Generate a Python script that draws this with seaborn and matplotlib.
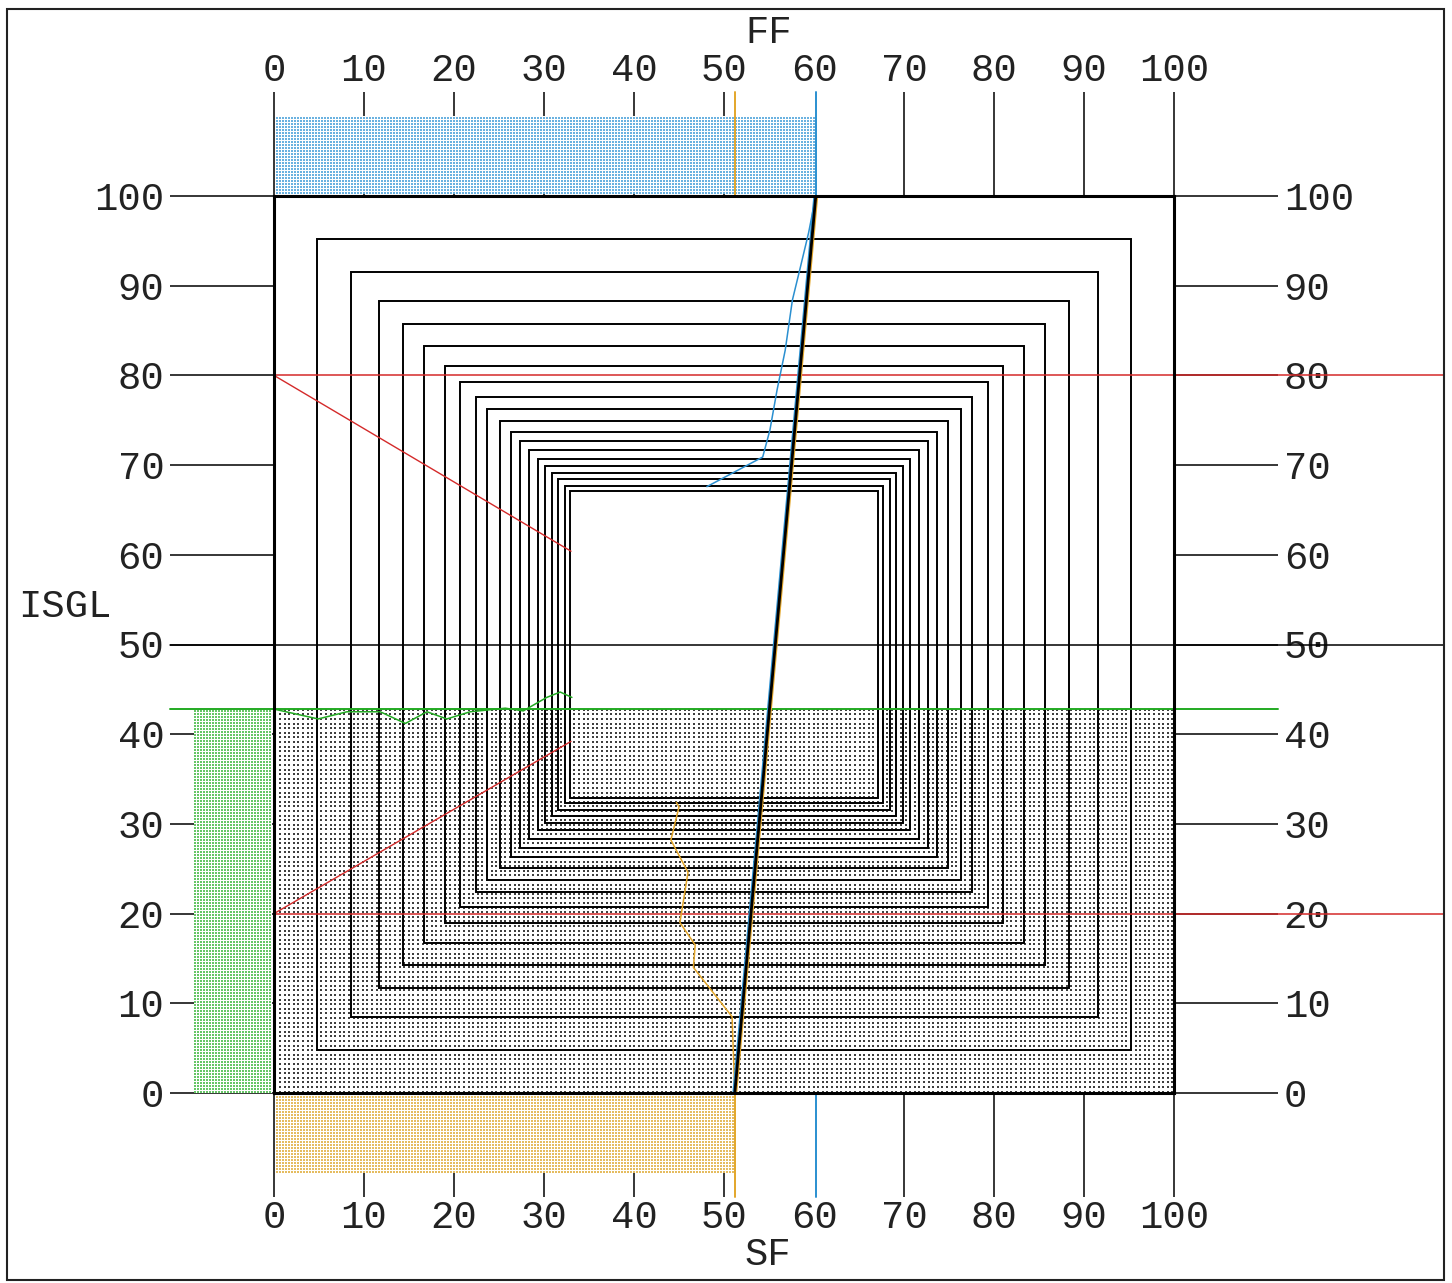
import numpy as np
import matplotlib
matplotlib.use("Agg")
import matplotlib.pyplot as plt
import matplotlib.transforms as mtransforms
from matplotlib.patches import Rectangle
import seaborn as sns

# ---------------- data ----------------
tick_values = list(range(0, 101, 10))
tick_labels = [str(v) for v in tick_values]

# inset of each nested square from the outer frame (outer -> inner)
box_insets = [4.8, 8.5, 11.7, 14.3, 16.7, 19.0, 20.7, 22.4, 23.7, 25.1,
              26.3, 27.3, 28.3, 29.3, 30.1, 30.9, 31.6, 32.3, 32.9]

ff_level = 60.2      # FF marker (top scale)
sf_level = 51.2      # SF marker (bottom scale)
isgl_level = 42.8    # ISGL level (left scale)
upper_line = 80
lower_line = 20
mid_line = 50

# FF trace (blue)
ff_x = [60.2, 59.4, 58.4, 57.6, 56.8, 55.9, 55.1, 54.3, 48.1]
ff_y = [100.0, 95.9, 91.7, 88.4, 82.8, 78.4, 73.9, 70.9, 67.6]

# SF trace (orange)
sf_x = [51.2, 50.9, 46.6, 46.8, 45.1, 46.0, 44.1, 45.0, 44.7]
sf_y = [0.0, 8.5, 14.0, 16.5, 19.0, 24.6, 28.2, 31.9, 32.4]

# ISGL trace (green)
isgl_x = [0.0, 4.9, 8.1, 11.8, 14.6, 17.0, 19.2, 21.8, 25.7, 27.7, 30.3, 31.8, 33.1]
isgl_y = [42.8, 41.7, 42.5, 42.5, 41.2, 42.5, 41.7, 42.5, 42.9, 42.6, 44.1, 44.7, 44.1]

# red guide diagonals
red_upper_x = [0.0, 33.0]
red_upper_y = [80.0, 60.4]
red_lower_x = [0.0, 33.0]
red_lower_y = [20.0, 39.2]

# ---------------- style ----------------
sns.set_theme(style="white")
plt.rcParams["font.family"] = ["Liberation Mono", "DejaVu Sans Mono"]

C_BLUE = "#2a8fd0"
C_ORANGE = "#e3a62a"
C_RED = "#d42a2a"
C_GREEN = "#22aa22"
C_TEXT = "#222222"
FS = 28
TICK_LEN = 75   # points

W_PX, H_PX, DPI = 1452, 1283, 100
AX_L, AX_B, AX_W, AX_H = 274, 190, 900, 897   # pixels

fig = plt.figure(figsize=(W_PX / DPI, H_PX / DPI), dpi=DPI)
fig.patch.set_facecolor("white")
ax = fig.add_axes([AX_L / W_PX, AX_B / H_PX, AX_W / W_PX, AX_H / H_PX])

px_x = AX_W / 100.0
px_y = AX_H / 100.0
reach_x = TICK_LEN * DPI / 72 / px_x
reach_y = TICK_LEN * DPI / 72 / px_y
band_x = 78 / px_x
band_y = 78 / px_y
gap_x = 2 / px_x
gap_y = 2 / px_y
x_far = (1444 - AX_L) / px_x


def dot_texture(x0, x1, y0, y1, rgb, period, dot):
    w = max(1, int(round(abs(x1 - x0) * px_x)))
    h = max(1, int(round(abs(y1 - y0) * px_y)))
    yy, xx = np.mgrid[0:h, 0:w]
    on = ((xx % period) < dot) & ((yy % period) < dot)
    img = np.ones((h, w, 3))
    img[on] = rgb
    return img


def paint(x0, x1, y0, y1, rgb, period, dot, z):
    img = dot_texture(x0, x1, y0, y1, rgb, period, dot)
    im = ax.imshow(img, extent=(x0, x1, y0, y1), origin="lower",
                   interpolation="nearest", aspect="auto", zorder=z)
    im.set_clip_on(False)


# stippled ISGL region inside the frame
paint(0, 100, 0, isgl_level, np.array([0.25, 0.25, 0.25]), 4.6, 2, 1)
# side bands
paint(gap_x, ff_level, 100 + gap_y, 100 + gap_y + band_y,
      np.array([0.42, 0.70, 0.88]), 3, 2, 1.2)
paint(gap_x, sf_level, -gap_y - band_y, -gap_y,
      np.array([0.90, 0.74, 0.38]), 3, 2, 1.2)
paint(-gap_x - band_x, -gap_x, 0, isgl_level,
      np.array([0.40, 0.78, 0.40]), 3, 2, 1.2)

# nested squares
for d in box_insets:
    ax.add_patch(Rectangle((d, d), 100 - 2 * d, 100 - 2 * d, fill=False,
                           lw=1.4, ec="black", zorder=3))

# horizontal guide lines
ax.plot([-reach_x, x_far], [mid_line, mid_line], color="black", lw=1.1,
        zorder=4, clip_on=False)
for lvl in (upper_line, lower_line):
    ax.plot([0, x_far], [lvl, lvl], color=C_RED, lw=1.1, zorder=4, clip_on=False)
ax.plot([-reach_x, 100 + reach_x], [isgl_level, isgl_level], color=C_GREEN,
        lw=1.4, zorder=4, clip_on=False)

# scale markers on top/bottom
for lvl, col in ((ff_level, C_BLUE), (sf_level, C_ORANGE)):
    ax.plot([lvl, lvl], [100, 100 + reach_y], color=col, lw=1.4, zorder=4,
            clip_on=False)
    ax.plot([lvl, lvl], [-reach_y, 0], color=col, lw=1.4, zorder=4,
            clip_on=False)

# red diagonals
ax.plot(red_upper_x, red_upper_y, color=C_RED, lw=1.0, zorder=4)
ax.plot(red_lower_x, red_lower_y, color=C_RED, lw=1.0, zorder=4)

# traces
sns.lineplot(x=ff_x, y=ff_y, sort=False, estimator=None, color=C_BLUE,
             lw=1.1, ax=ax, zorder=5)
sns.lineplot(x=sf_x, y=sf_y, sort=False, estimator=None, color=C_ORANGE,
             lw=1.1, ax=ax, zorder=5)
sns.lineplot(x=isgl_x, y=isgl_y, sort=False, estimator=None, color=C_GREEN,
             lw=1.1, ax=ax, zorder=5)

# SF -> FF diagonal with coloured edges
diag_x = [sf_level, ff_level]
diag_y = [0, 100]
left_tr = mtransforms.offset_copy(ax.transData, fig=fig, x=-1.5, y=0, units="dots")
right_tr = mtransforms.offset_copy(ax.transData, fig=fig, x=1.5, y=0, units="dots")
ax.plot(diag_x, diag_y, color=C_ORANGE, lw=1.4, transform=right_tr, zorder=6)
ax.plot(diag_x, diag_y, color=C_BLUE, lw=1.4, transform=left_tr, zorder=6)
ax.plot(diag_x, diag_y, color="black", lw=2.0, zorder=7)

# axes, ticks and frame
ax.set_xlim(0, 100)
ax.set_ylim(0, 100)
ax.set_axisbelow(True)
ax.grid(False)
ax.set_xticks(tick_values, tick_labels)
ax.set_yticks(tick_values, tick_labels)
ax.tick_params(axis="x", top=True, bottom=True, labeltop=True, labelbottom=True,
               length=TICK_LEN, width=1.1, direction="out", pad=2,
               labelsize=FS, color="black", labelcolor=C_TEXT)
ax.tick_params(axis="y", left=True, right=True, labelleft=True, labelright=True,
               length=TICK_LEN, width=1.1, direction="out", pad=4,
               labelsize=FS, color="black", labelcolor=C_TEXT)
for lbl in ax.get_xticklabels(which="both"):
    pass
for t in ax.xaxis.get_major_ticks():
    t.label1.set_y(t.label1.get_position()[1])
    if abs(t.get_loc() - 60) < 1e-9:
        t.tick1line.set_visible(False)
        t.tick2line.set_visible(False)
for sp in ax.spines.values():
    sp.set_linewidth(2.2)
    sp.set_color("black")
    sp.set_zorder(8)

# axis titles
fig.text(769 / W_PX, 1 - 33 / H_PX, "FF", ha="center", va="center",
         fontsize=FS, color=C_TEXT)
fig.text(768 / W_PX, 1 - 1255 / H_PX, "SF", ha="center", va="center",
         fontsize=FS, color=C_TEXT)
fig.text(65 / W_PX, 1 - 607 / H_PX, "ISGL", ha="center", va="center",
         fontsize=FS, color=C_TEXT)

# outer frame of the figure
fig.patches.append(Rectangle((7 / W_PX, 3 / H_PX), 1437 / W_PX, 1271 / H_PX,
                             transform=fig.transFigure, fill=False,
                             lw=1.5, ec="#222222", zorder=10))

fig.savefig("out.png", dpi=DPI, facecolor="white")
